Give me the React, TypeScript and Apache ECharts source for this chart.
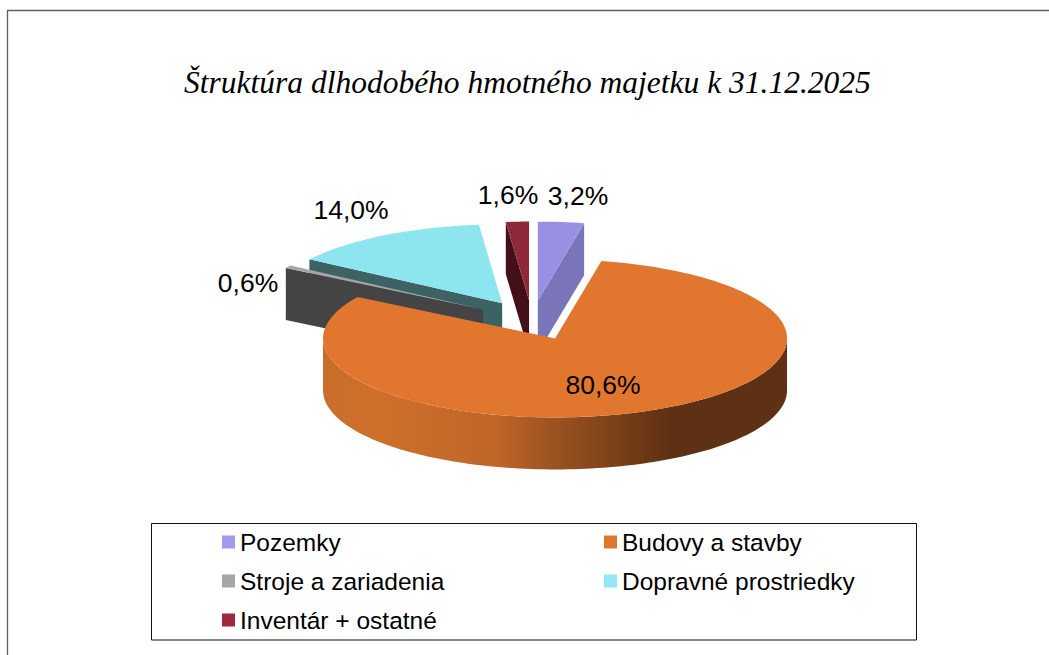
import React, { useEffect, useRef } from "react";
import * as echarts from "echarts";

const TITLE = "Štruktúra dlhodobého hmotného majetku k 31.12.2025";
const CATEGORIES = ["Pozemky", "Budovy a stavby", "Stroje a zariadenia", "Dopravné prostriedky", "Inventár + ostatné"];
const VALUES = [3.2, 80.6, 0.6, 14.0, 1.6];

const TOP_COLORS = ["#9890E3", "#E1762F", "#A6A6A6", "#8DE5EF", "#8F2839"];
const LEGEND_COLORS = ["#A09BEE", "#E1762F", "#A6A6A6", "#90E8F5", "#9E2A3C"];
const WALL_COLORS = ["#7A75B8", "#B5622A", "#444444", "#3D6264", "#43101A"];
const LABEL_CENTERS: [number, number][] = [[578, 196], [603, 385], [248, 283], [351, 210], [508, 195]];
const DRAW_ORDER = [4, 0, 3, 2, 1];

const CX = 532, CY = 320.3, RX = 232, RY = 79, DEPTH = 52, EXPLODE = 0.25;
const RAD = Math.PI / 180;
const TOTAL = VALUES.reduce((a, b) => a + b, 0);

const orangeWall = new echarts.graphic.LinearGradient(0, 0, 1, 0, [
  { offset: 0, color: "#C96D2A" },
  { offset: 0.12, color: "#CF702B" },
  { offset: 0.38, color: "#BE6528" },
  { offset: 0.5, color: "#9A5220" },
  { offset: 0.75, color: "#5E3014" },
  { offset: 1, color: "#5E3014" },
]);

function renderSlice(index: number) {
  return (_params: any, api: any) => {
    const value = api.value(0);
    const before = VALUES.slice(0, index).reduce((a, b) => a + b, 0);
    const a = (before / TOTAL) * 360;
    const b = ((before + value) / TOTAL) * 360;
    const mid = (a + b) / 2;
    const ax = CX + EXPLODE * RX * Math.sin(mid * RAD);
    const ay = CY - EXPLODE * RY * Math.cos(mid * RAD);
    const rim = (deg: number, dy = 0): [number, number] => [
      ax + RX * Math.sin(deg * RAD),
      ay - RY * Math.cos(deg * RAD) + dy,
    ];
    const arc = (from: number, to: number, dy = 0) => {
      const n = Math.max(2, Math.ceil(Math.abs(to - from) / 1.5));
      const pts: [number, number][] = [];
      for (let i = 0; i <= n; i++) pts.push(rim(from + ((to - from) * i) / n, dy));
      return pts;
    };
    const children: any[] = [];
    const wall = WALL_COLORS[index];
    const wallFace = (deg: number) => ({
      type: "polygon",
      shape: { points: [rim(deg), [ax, ay], [ax, ay + DEPTH], rim(deg, DEPTH)] },
      style: { fill: wall },
    });
    if (a > 180 && a < 360) children.push(wallFace(a));
    if (b > 0 && b < 180) children.push(wallFace(b));
    const from = Math.max(a, 90);
    const to = Math.min(b, 270);
    if (to > from) {
      children.push({
        type: "polygon",
        shape: { points: [...arc(from, to), ...arc(to, from, DEPTH)] },
        style: { fill: index === 1 ? orangeWall : wall },
      });
    }
    children.push({
      type: "polygon",
      shape: { points: [[ax, ay], ...arc(a, b)] },
      style: { fill: TOP_COLORS[index] },
    });
    const [lx, ly] = LABEL_CENTERS[index];
    children.push({
      type: "text",
      x: lx,
      y: ly,
      style: {
        text: value.toFixed(1).replace(".", ",") + "%",
        fill: "#000",
        font: "26.5px 'Liberation Sans'",
        align: "center",
        verticalAlign: "middle",
      },
    });
    return { type: "group", children };
  };
}

const legendText = { fontFamily: "Liberation Sans", fontSize: 24.5, color: "#000", lineHeight: 26 };
const legendEntry = (i: number) => ({
  name: CATEGORIES[i],
  itemStyle: { color: LEGEND_COLORS[i] },
});
const legendBase = {
  orient: "vertical" as const,
  itemWidth: 13,
  itemHeight: 13,
  itemGap: 13,
  padding: 0,
  selectedMode: false,
  icon: "rect",
  textStyle: legendText,
};

export default function App() {
  const ref = useRef<HTMLDivElement>(null);
  useEffect(() => {
    if (!ref.current) return;
    const chart = echarts.init(ref.current, undefined, { renderer: "svg" });
    chart.setOption({
      animation: false,
      backgroundColor: "#fff",
      title: {
        text: TITLE,
        left: 184,
        top: 66,
        padding: 0,
        textStyle: {
          fontFamily: "Liberation Serif",
          fontStyle: "italic",
          fontWeight: "normal",
          fontSize: 31.5,
          color: "#000",
        },
      },
      legend: [
        { ...legendBase, left: 222, top: 529, data: [0, 2, 4].map(legendEntry) },
        { ...legendBase, left: 604, top: 529, data: [1, 3].map(legendEntry) },
      ],
      graphic: [
        {
          type: "polyline",
          shape: { points: [[7.5, 655], [7.5, 10.5], [1049, 10.5]] },
          style: { fill: "none", stroke: "#5f5f5f", lineWidth: 1.3 },
          silent: true,
        },
        {
          type: "rect",
          shape: { x: 151.5, y: 523.5, width: 765, height: 116.5 },
          style: { fill: "none", stroke: "#111", lineWidth: 1 },
          silent: true,
        },
      ],
      series: DRAW_ORDER.map((i) => ({
        type: "custom",
        name: CATEGORIES[i],
        coordinateSystem: "none",
        data: [[VALUES[i]]],
        itemStyle: { color: LEGEND_COLORS[i] },
        renderItem: renderSlice(i),
        silent: true,
      })),
    });
    return () => chart.dispose();
  }, []);
  return <div ref={ref} style={{ position: "fixed", left: 0, top: 0, width: 1049, height: 655 }} />;
}
